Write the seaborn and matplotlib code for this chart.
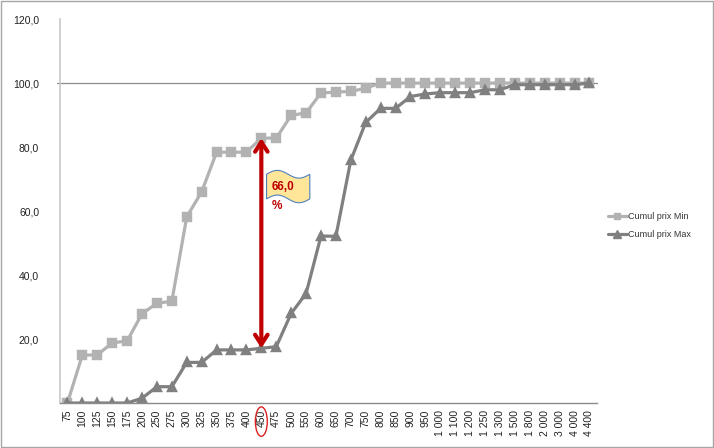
"""Courbes cumulées des prix min / max (style Excel)."""

import numpy as np
import pandas as pd
import matplotlib
matplotlib.use("Agg")
import matplotlib.pyplot as plt
import seaborn as sns
from matplotlib.lines import Line2D
from matplotlib.patches import Ellipse, Rectangle

prix = ["75", "100", "125", "150", "175", "200", "250", "275", "300", "325",
        "350", "375", "400", "450", "475", "500", "550", "600", "650", "700",
        "750", "800", "850", "900", "950", "1 000", "1 100", "1 200", "1 250",
        "1 300", "1 500", "1 800", "2 000", "3 000", "4 000", "4 400"]

cumul_min = [0.0, 15.0, 15.0, 18.8, 19.4, 27.9, 31.2, 31.8, 58.2, 66.0,
             78.4, 78.4, 78.4, 82.8, 82.8, 89.9, 90.7, 96.9, 97.2, 97.4,
             98.4, 100.0, 100.0, 100.0, 100.0, 100.0, 100.0, 100.0, 100.0,
             100.0, 100.0, 100.0, 100.0, 100.0, 100.0, 100.0]

cumul_max = [0.0, 0.0, 0.0, 0.0, 0.0, 1.5, 5.1, 5.1, 12.7, 12.7,
             16.6, 16.6, 16.6, 17.1, 17.6, 28.0, 34.2, 52.2, 52.1, 75.9,
             87.7, 92.1, 92.1, 95.8, 96.6, 97.0, 97.0, 97.0, 97.9,
             97.9, 99.5, 99.5, 99.5, 99.5, 99.5, 100.0]

series = ["Cumul prix Min", "Cumul prix Max"]
ecart_label = "66,0"
prix_ecart = "450"

COL_MIN = "#b2b2b2"
COL_MAX = "#808080"
ROUGE = "#c00000"

df = pd.DataFrame({
    "prix": prix * 2,
    "cumul": cumul_min + cumul_max,
    "serie": [series[0]] * len(prix) + [series[1]] * len(prix),
})

sns.set_style("white")
plt.rcParams["font.family"] = ["Liberation Sans", "DejaVu Sans"]

fig = plt.figure(figsize=(7.14, 4.48), dpi=100)
ax = fig.add_axes([0.084, 0.1004, 0.752, 0.857])

sns.pointplot(
    data=df, x="prix", y="cumul", hue="serie", order=prix,
    palette=[COL_MIN, COL_MAX], markers=["s", "^"], linestyles=["-", "-"],
    errorbar=None, ax=ax, linewidth=2.3, markersize=5.5,
)
if ax.get_legend() is not None:
    ax.get_legend().remove()

ax.set_xlim(-0.5, len(prix) - 0.5)
ax.set_ylim(0, 120)
ax.set_xlabel("")
ax.set_ylabel("")

# axes facon Excel
for side in ["top", "right"]:
    ax.spines[side].set_visible(False)
ax.spines["left"].set_color("#c8c8c8")
ax.spines["left"].set_linewidth(1.2)
ax.spines["bottom"].set_color("#8c8c8c")
ax.spines["bottom"].set_linewidth(1.0)
ax.axhline(100, xmin=-0.006, color="#8c8c8c", lw=0.9, clip_on=False, zorder=1)

ax.set_yticks([20, 40, 60, 80, 100, 120])
ax.set_yticklabels([f"{v:.1f}".replace(".", ",") for v in [20, 40, 60, 80, 100, 120]])
ax.tick_params(axis="y", length=0, pad=15, labelsize=7.5, labelcolor="#222222")

ax.set_xticks(range(len(prix)))
ax.set_xticklabels(prix, rotation=90)
ax.tick_params(axis="x", length=0, pad=5, labelsize=7.5, labelcolor="#222222")
ax.set_xticks(np.arange(-0.5, len(prix)), minor=True)
ax.tick_params(axis="x", which="minor", length=3, color="#8c8c8c", direction="out")

# fleche de l'ecart
i = prix.index(prix_ecart)
ax.annotate("", xy=(i, cumul_min[i]), xytext=(i, cumul_max[i]),
            arrowprops=dict(arrowstyle="<->,head_length=0.7,head_width=0.45",
                            color=ROUGE, lw=3, shrinkA=0, shrinkB=0), zorder=5)

# etiquette en forme de drapeau
t = np.linspace(0, 1, 60)
fx = i + 0.35 + 2.9 * t
top = 71.5 + 1.2 * np.sin(2 * np.pi * t)
bot = 63.8 + 1.2 * np.sin(2 * np.pi * t)
ax.fill(np.concatenate([fx, fx[::-1]]), np.concatenate([top, bot[::-1]]),
        facecolor="#ffe699", edgecolor="#4f81bd", lw=0.8, zorder=4)
ax.text(i + 0.7, 67.6, ecart_label, color=ROUGE, fontsize=8.5, fontweight="bold",
        va="center", ha="left", zorder=6)
ax.text(i + 0.7, 61.6, "%", color=ROUGE, fontsize=8.5, fontweight="bold",
        va="center", ha="left", zorder=6)

# cercle autour du libelle 450
ax.add_patch(Ellipse((i, -5.8), width=0.8, height=9.2, transform=ax.transData,
                     fill=False, edgecolor="#e02020", lw=1.0, clip_on=False))

handles = [
    Line2D([], [], color=COL_MIN, marker="s", markersize=5, lw=2.3),
    Line2D([], [], color=COL_MAX, marker="^", markersize=5.5, lw=2.3),
]
fig.legend(handles, series, loc="center left", bbox_to_anchor=(0.851, 0.497),
           frameon=False, fontsize=6.5, handlelength=2.1, handletextpad=0.2,
           labelspacing=1.0, labelcolor="#333333", borderaxespad=0,
           borderpad=0)

fig.patches.append(Rectangle((0.002, 0.002), 0.996, 0.996, transform=fig.transFigure,
                             fill=False, edgecolor="#a6a6a6", lw=1.0))

fig.savefig("out.png", dpi=100)
